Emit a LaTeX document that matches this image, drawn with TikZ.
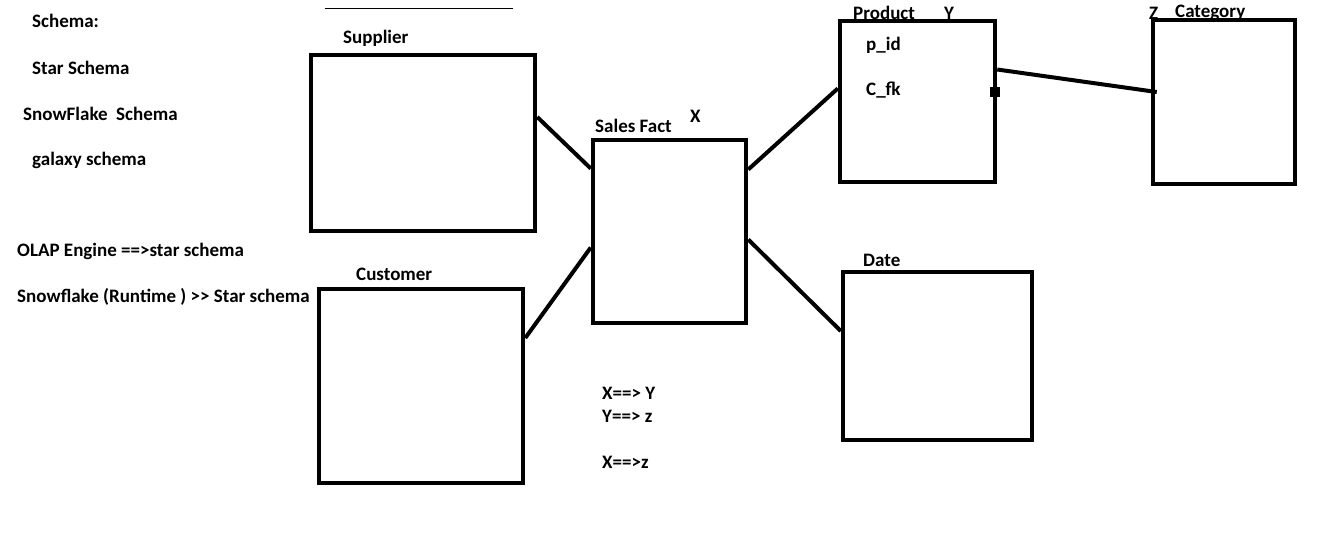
\documentclass[tikz,border=0pt]{standalone}
\usepackage{fontspec}
\setmainfont{Carlito}[Ligatures=TeXReset]
\newcommand{\paintfont}{\fontsize{19}{21}\selectfont\bfseries}

\begin{document}
\begin{tikzpicture}[x=1pt,y=-1pt,
  tbl/.style={draw,line width=4.5pt,inner sep=0pt},
  lbl/.style={anchor=west,inner sep=0pt,font=\paintfont},
  link/.style={line width=4pt}]
\useasboundingbox (0,0) rectangle (1331,542);
\tikzstyle{box}=[tbl]
\node[lbl] (schema) at (32,21) {Schema:};
\node[lbl] (star) at (32,68) {Star Schema};
\node[lbl] (snow) at (23,114) {SnowFlake\ \ Schema};
\node[lbl] (galaxy) at (32,160) {galaxy schema};
\node[lbl] (olap) at (17,251) {OLAP Engine ==>star schema};
\node[lbl] (runtime) at (17,297) {Snowflake (Runtime ) {>}{>} Star schema};
\coordinate (rulea) at (325,8);
\coordinate (ruleb) at (513,8);
\draw[line width=1pt] (rulea) -- (ruleb);
\node[box,minimum width=224pt,minimum height=176pt] (sup) at (423,143) {};
\node[box,minimum width=153pt,minimum height=183pt] (fact) at (669.5,231.5) {};
\node[box,minimum width=204pt,minimum height=194pt] (cust) at (421,386) {};
\node[box,minimum width=155pt,minimum height=161pt] (prod) at (917.5,101.5) {};
\node[box,minimum width=142pt,minimum height=164pt] (cat) at (1224,102) {};
\node[box,minimum width=189pt,minimum height=168pt] (date) at (937.5,356) {};
\node[lbl] (supl) at (343,38) {Supplier};
\node[lbl] (custl) at (356,274) {Customer};
\node[lbl] (factl) at (595,126) {Sales Fact};
\node[lbl] (x) at (690,116) {X};
\node[lbl] (prodl) at (853,13) {Product};
\node[lbl] (y) at (944,13) {Y};
\node[lbl] (z) at (1149,13) {Z};
\node[lbl] (catl) at (1175,13) {Category};
\node[lbl] (pid) at (866,45) {p\_id};
\node[lbl] (cfk) at (866,90) {C\_fk};
\node[lbl] (datel) at (863,260) {Date};
\node[lbl] (xy) at (602,393) {X==> Y};
\node[lbl] (yz) at (602,416) {Y==> z};
\node[lbl] (xz) at (602,462) {X==>z};
\draw[link] ([yshift=26pt]sup.east) -- ([yshift=63pt]fact.west);
\draw[link] ([yshift=48pt]cust.east) -- ([yshift=-16pt]fact.west);
\draw[link] ([yshift=62pt]fact.east) -- ([yshift=13pt]prod.west);
\draw[link] ([yshift=-8pt]fact.east) -- ([yshift=25pt]date.west);
\draw[link] ([yshift=32pt]prod.east) -- ([xshift=6pt,yshift=10pt]cat.west);
\node[fill,minimum size=10pt,inner sep=0pt] (key) at ([yshift=10pt,xshift=-2pt]prod.east) {};
\end{tikzpicture}
\end{document}
